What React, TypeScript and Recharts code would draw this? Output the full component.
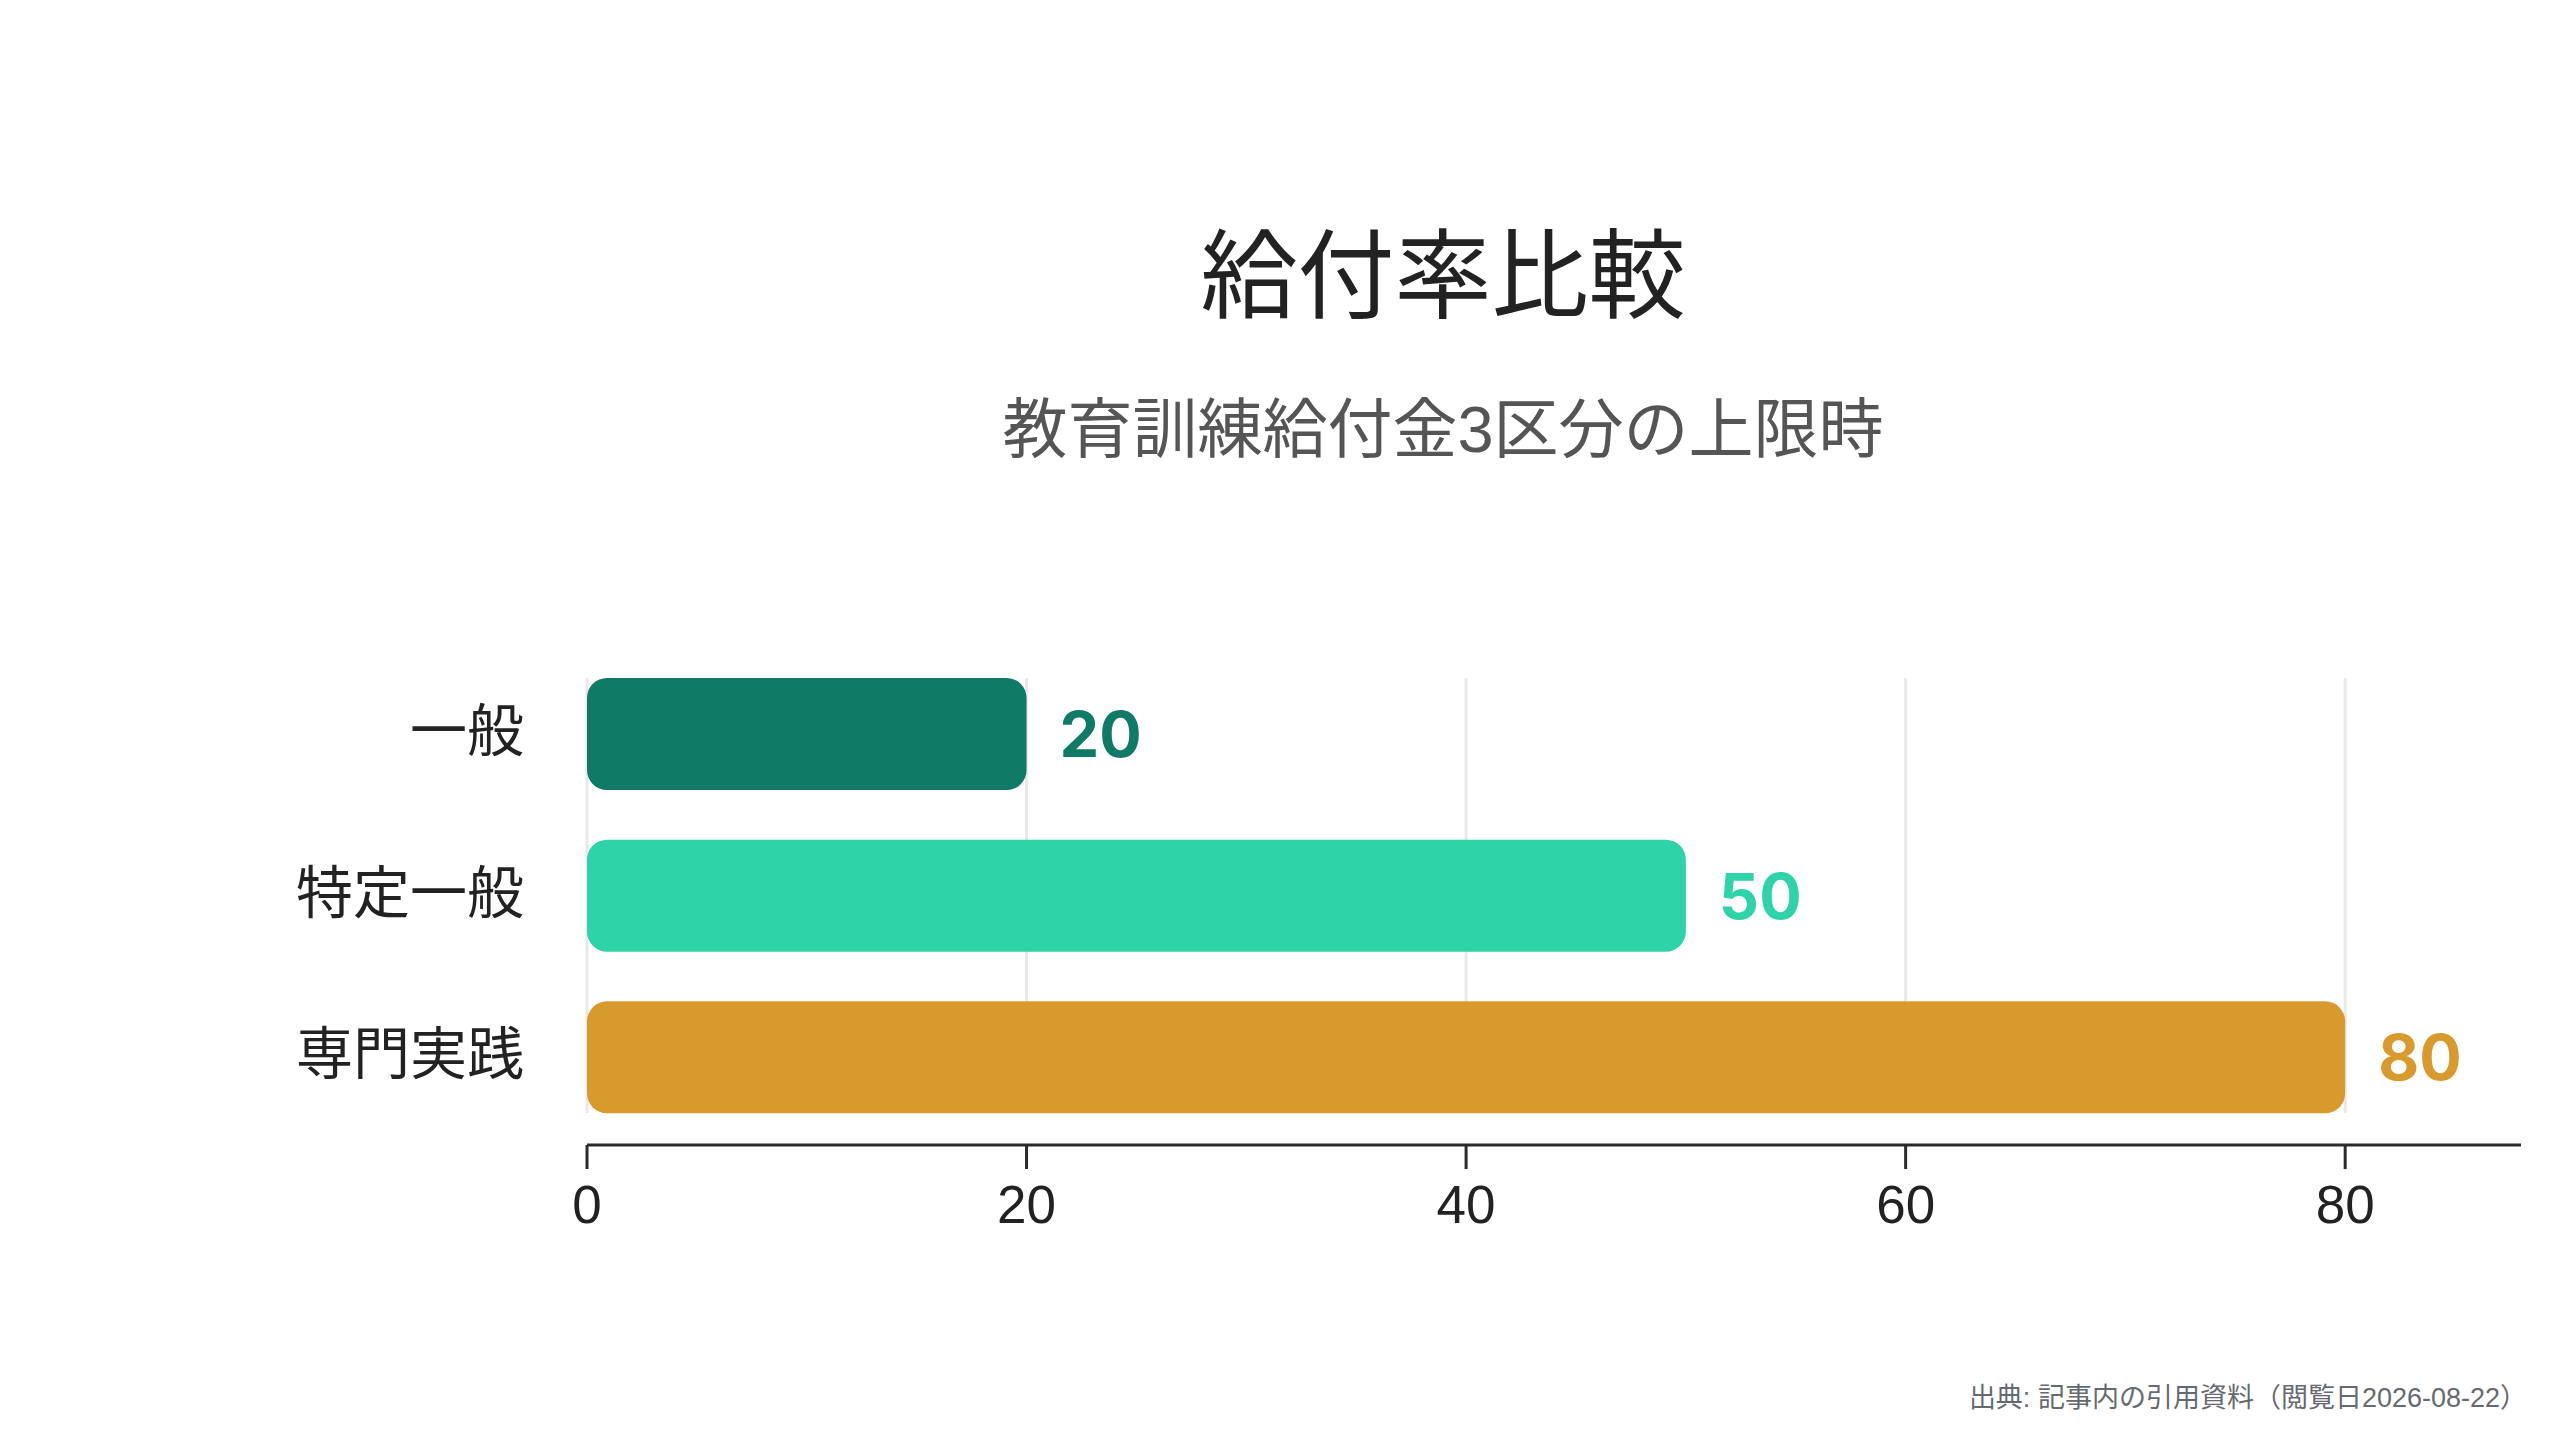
import React from 'react';
import { BarChart, Bar, XAxis, YAxis, CartesianGrid, Cell, LabelList } from 'recharts';

const categories = ['一般', '特定一般', '専門実践'];
const values = [20, 50, 80];
const barColors = ['#0F7B66', '#2ED4A8', '#D99A2D'];
const xTicks = [0, 20, 40, 60, 80];
const titleText = '給付率比較';
const subtitleText = '教育訓練給付金3区分の上限時';
const sourceText = '出典: 記事内の引用資料（閲覧日2026-08-22）';

const data = categories.map((c, i) => ({ name: c, value: values[i] }));

const FONT = "'Liberation Sans', 'Noto Sans CJK JP', sans-serif";

const YTick = (props: any) => {
  const { x, y, payload } = props;
  return (
    <text x={x} y={y - 8} textAnchor="end" dominantBaseline="central" fontSize={57} fill="#222222" fontFamily="'Noto Sans CJK JP', sans-serif">
      {payload.value}
    </text>
  );
};

const ValueLabel = (props: any) => {
  const { x, y, width, height, value, index } = props;
  return (
    <text
      x={x + width + 33}
      y={y + height / 2}
      textAnchor="start"
      dominantBaseline="central"
      fontSize={63}
      fontWeight={700}
      fontFamily="Inter, 'Liberation Sans', sans-serif"
      fill={barColors[index]}
    >
      {value}
    </text>
  );
};

export default function App() {
  return (
    <div style={{ position: 'absolute', left: 0, top: 0, width: 2560, height: 1440, background: '#ffffff', fontFamily: FONT }}>
      <div
        style={{
          position: 'absolute',
          left: 1443,
          top: 219,
          transform: 'translateX(-50%)',
          fontSize: 97,
          lineHeight: '97px',
          color: '#222222',
          whiteSpace: 'nowrap',
          fontFamily: "'Noto Sans CJK JP', sans-serif",
        }}
      >
        {titleText}
      </div>
      <div
        style={{
          position: 'absolute',
          left: 1443,
          top: 397,
          transform: 'translateX(-50%)',
          fontSize: 65,
          lineHeight: '65px',
          color: '#555555',
          whiteSpace: 'nowrap',
          fontFamily: "'Liberation Sans', 'Noto Sans CJK JP', sans-serif",
        }}
      >
        {subtitleText}
      </div>
      <BarChart
        width={2560}
        height={1440}
        data={data}
        layout="vertical"
        margin={{ top: 653, right: 39, bottom: 0, left: 0 }}
        barSize={112}
      >
        <CartesianGrid
          horizontal={false}
          vertical={true}
          verticalValues={xTicks}
          stroke="#e9e9e9"
          strokeWidth={3}
          y={678}
          height={435}
        />
        <XAxis
          type="number"
          domain={[0, 88]}
          ticks={xTicks}
          allowDataOverflow
          axisLine={{ stroke: '#2b2b2b', strokeWidth: 3 }}
          tickLine={{ stroke: '#2b2b2b', strokeWidth: 3 }}
          tickSize={24}
          tickMargin={16}
          tick={{ fontSize: 53, fill: '#222222', fontFamily: FONT }}
          height={295}
        />
        <YAxis
          type="category"
          dataKey="name"
          width={587}
          axisLine={false}
          tickLine={false}
          tickSize={0}
          tickMargin={63}
          tick={<YTick />}
          padding={{ top: 0, bottom: 7 }}
        />
        <Bar dataKey="value" radius={20} isAnimationActive={false}>
          {data.map((d, i) => (
            <Cell key={d.name} fill={barColors[i]} />
          ))}
          <LabelList dataKey="value" content={<ValueLabel />} />
        </Bar>
      </BarChart>
      <div
        style={{
          position: 'absolute',
          right: 2560 - 2527,
          top: 1385,
          fontSize: 27,
          lineHeight: '27px',
          color: '#666a70',
          whiteSpace: 'nowrap',
          fontFamily: "'Liberation Sans', 'Noto Sans CJK JP', sans-serif",
        }}
      >
        {sourceText}
      </div>
    </div>
  );
}
